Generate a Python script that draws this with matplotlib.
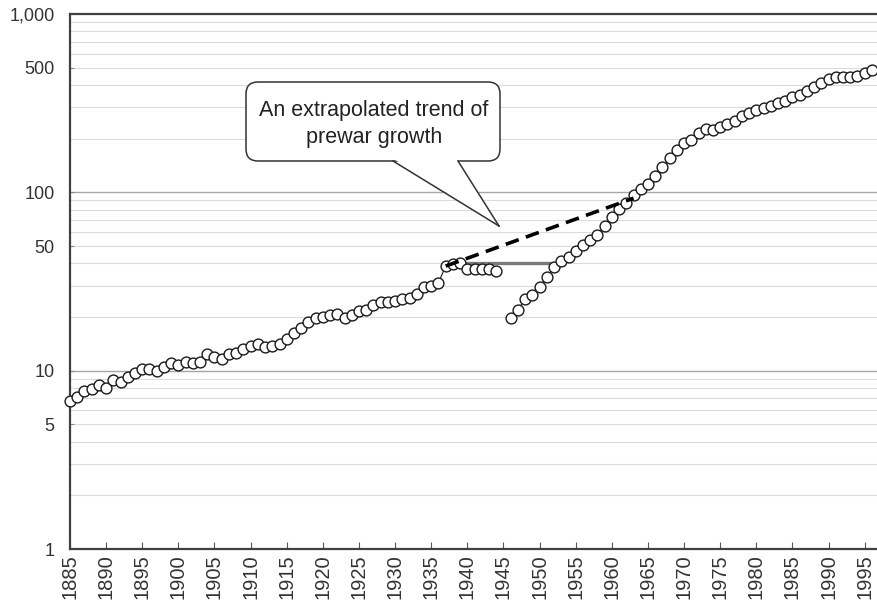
import numpy as np
import matplotlib
matplotlib.use("Agg")
import matplotlib.pyplot as plt
from matplotlib.patches import FancyBboxPatch, Polygon
from matplotlib.lines import Line2D
from matplotlib.transforms import IdentityTransform

plt.rcParams['font.family'] = ['Liberation Sans', 'DejaVu Sans']

# prewar + wartime series
years_pre = list(range(1885, 1945))
vals_pre = [6.8, 7.15, 7.7, 7.9, 8.3, 8.0, 8.85, 8.65, 9.25, 9.7,
            10.2, 10.2, 9.9, 10.45, 11.0, 10.8, 11.2, 11.0, 11.2, 12.4,
            11.9, 11.7, 12.4, 12.6, 13.2, 13.8, 14.1, 13.6, 13.8, 14.1,
            15.1, 16.2, 17.3, 18.8, 19.8, 19.9, 20.4, 20.7, 19.7, 20.4,
            21.7, 22.0, 23.2, 24.4, 24.2, 24.6, 25.1, 25.7, 26.8, 29.6,
            30.0, 31.2, 38.6, 39.7, 40.3, 37.0, 37.4, 37.4, 37.4, 36.3]

# postwar series
years_post = list(range(1946, 1997))
vals_post = [19.7, 21.9, 25.3, 26.4, 29.6, 33.7, 38.0, 41.2, 43.6, 47.1,
             50.5, 54.1, 57.7, 64.5, 72.5, 80.4, 86.9, 96, 104, 111,
             123, 138, 155, 173, 188, 197, 214, 227, 224, 232,
             241, 252, 268, 280, 290, 299, 306, 316, 327, 341,
             352, 370, 392, 412, 431, 442, 442, 442, 450, 469, 486]

# prewar peak level carried forward, and extrapolated prewar trend
peak_years = [1939, 1952]
peak_vals = [40.3, 40.3]
trend_years = [1937, 1963]
trend_vals = [38.6, 92.7]

ytick_vals = [1, 5, 10, 50, 100, 500, 1000]
ytick_labels = ["1", "5", "10", "50", "100", "500", "1,000"]
xtick_years = list(range(1885, 1996, 5))

callout_text = "An extrapolated trend of\nprewar growth"

W, H = 877, 610
fig = plt.figure(figsize=(W / 100, H / 100), dpi=100)
ax = fig.add_axes([70 / W, 1 - 549 / H, (W - 70) / W, (549 - 14) / H])

ax.set_yscale("log")
ax.set_ylim(1, 1000)
ax.set_xlim(1885, 1996.7)

# gridlines
for k in range(3):
    for m in range(2, 10):
        ax.axhline(m * 10 ** k, color="#dcdcdc", lw=0.8, zorder=0)
for v in [10, 100]:
    ax.axhline(v, color="#a6a6a6", lw=1.0, zorder=0.5)

ax.plot(peak_years, peak_vals, color="#7a7a7a", lw=2.4, zorder=2,
        solid_capstyle="butt")

mk = dict(marker="o", markersize=7.8, markerfacecolor="white",
          markeredgecolor="#1a1a1a", markeredgewidth=1.0,
          color="#1a1a1a", lw=0.8, clip_on=False)
ax.plot(years_pre, vals_pre, zorder=3, **mk)
ax.plot(years_post, vals_post, zorder=3, **mk)

ax.plot(trend_years, trend_vals, color="black", lw=2.6, zorder=4,
        dashes=(3.8, 2.1))

ax.set_yticks(ytick_vals)
ax.set_yticklabels(ytick_labels)
ax.yaxis.set_minor_locator(matplotlib.ticker.NullLocator())
ax.tick_params(axis="y", direction="in", length=3, color="#888888",
               labelsize=13, labelcolor="#333333", pad=11)
ax.set_xticks(xtick_years)
ax.set_xticklabels([str(y) for y in xtick_years], rotation=90)
ax.tick_params(axis="x", direction="in", length=5, color="#555555",
               labelsize=14.5, labelcolor="#333333", pad=4)

for s in ["left", "bottom", "top"]:
    ax.spines[s].set_color("#404040")
    ax.spines[s].set_linewidth(1.6)
ax.spines["right"].set_visible(False)

# callout bubble (pixel coordinates, origin bottom-left)
def px(x, y):
    return (x, H - y)

tr = IdentityTransform()
bl = px(246, 161)
box = FancyBboxPatch(bl, 500 - 246, 161 - 82,
                     boxstyle="round,pad=0,rounding_size=12",
                     facecolor="white", edgecolor="#333333", lw=1.1,
                     transform=tr, zorder=10)
fig.patches.append(box)
tail_fill = Polygon([px(394.5, 159.5), px(499, 226), px(457, 159.5)],
                    closed=True, facecolor="white", edgecolor="none",
                    transform=tr, zorder=11)
fig.patches.append(tail_fill)
for a, b in [((393, 161), (499, 226)), ((458, 161), (499, 226))]:
    p1, p2 = px(*a), px(*b)
    fig.lines.append(Line2D([p1[0], p2[0]], [p1[1], p2[1]], color="#333333",
                            lw=1.1, transform=tr, zorder=12))
tx, ty = px(374, 124)
fig.text(tx, ty, callout_text, transform=tr, ha="center", va="center",
         fontsize=15.5, color="#222222", linespacing=1.38, zorder=13)

fig.savefig("out.png", dpi=100)
